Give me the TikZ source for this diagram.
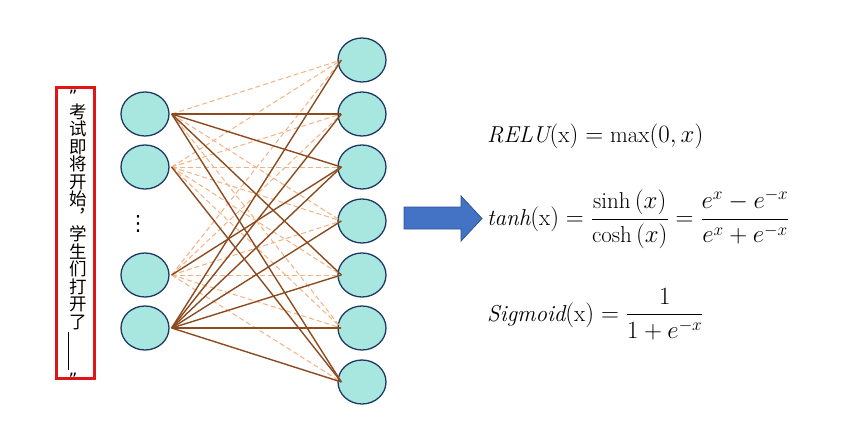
\documentclass[tikz,border=0pt]{standalone}
\usepackage{fontspec}
\usepackage{amsmath}
\usepackage{tikz}
\usetikzlibrary{shapes.geometric, positioning, calc}
\newfontfamily\cjk{Noto Sans CJK SC}
\newfontfamily\symfont{DejaVu Sans}
\definecolor{cellcolor}{RGB}{168,230,224}
\definecolor{rimcolor}{RGB}{31,56,100}
\definecolor{strongcolor}{RGB}{140,75,30}
\definecolor{weakcolor}{RGB}{244,177,131}
\definecolor{flowcolor}{RGB}{68,114,196}
\definecolor{flowrim}{RGB}{47,82,143}
\definecolor{framecolor}{RGB}{222,22,22}

\begin{document}
\begin{tikzpicture}[
    x=1pt, y=-1pt,
    neuron/.style={draw=rimcolor, fill=cellcolor, line width=1.3pt, ellipse, minimum width=48pt, minimum height=44pt},
    strong/.style={draw=strongcolor, line width=1.4pt},
    weak/.style={draw=weakcolor, line width=1pt, dash pattern=on 5pt off 3pt},
    chinese/.style={inner sep=0pt, align=center, font=\cjk\fontsize{17.5}{17.5}\selectfont},
    quote/.style={inner sep=0pt, font=\symfont\fontsize{17}{17}\selectfont},
    formula/.style={anchor=west, inner sep=0pt, font=\fontsize{23}{26}\selectfont}
]
    \useasboundingbox (0,0) rectangle (844,426);

    % question in the red frame
    \node[draw=framecolor, line width=3pt, minimum width=38pt, minimum height=291pt, inner sep=0pt] (frame) at (75,232.5) {};
    \node[chinese] (quest) at (78,216.5) {考\\试\\即\\将\\开\\始\\︐\\学\\生\\们\\打\\开\\了};
    \node[quote, above=1pt of quest, xshift=-5pt] (open) {”};
    \node[inner sep=0pt, below=2pt of quest, xshift=-10pt] (blank) {\rule{0.9pt}{38pt}};
    \node[quote, below=3pt of blank, xshift=5pt] (close) {”};

    % layers
    \foreach \i/\y in {1/114, 2/167, 3/275, 4/328}
        \node[neuron] (in\i) at (145,\y) {};
    \foreach \j/\y in {1/60, 2/114, 3/167, 4/221, 5/275, 6/328, 7/382}
        \node[neuron] (out\j) at (362,\y) {};
    \node[inner sep=0pt, font=\symfont\fontsize{21}{24}\selectfont] (gap) at (138,223.5) {⋮};

    % weights
    \foreach \i/\list in {1/{1,4,6}, 2/{1,2,3,4,5,6}, 3/{1,2,4,5,6,7}}
        \foreach \j in \list
            \draw[weak] ($(in\i.east)+(2,0)$) -- ($(out\j.west)+(4,0)$);
    \foreach \i/\list in {1/{2,3,5,7}, 2/{7}, 3/{3}, 4/{1,2,3,4,5,6,7}}
        \foreach \j in \list
            \draw[strong] ($(in\i.east)+(2,0)$) -- ($(out\j.west)+(4,0)$);

    % block arrow
    \draw[fill=flowcolor, draw=flowrim, line width=0.8pt] (404,207) -- (461,207) -- (461,196) -- (482,218.5) -- (461,241) -- (461,229) -- (404,229) -- cycle;

    % activation functions
    \node[formula] (relu) at (487,136) {$\mathit{RELU}(\mathrm{x}) = \max(0,x)$};
    \node[formula] (tanh) at (487,219) {$\displaystyle \mathit{tanh}(\mathrm{x}) = \frac{\sinh{(x)}}{\cosh{(x)}} = \frac{e^{x}-e^{-x}}{e^{x}+e^{-x}}$};
    \node[formula] (sigm) at (487,314) {$\displaystyle \mathit{Sigmoid}(\mathrm{x}) = \frac{1}{1+e^{-x}}$};
\end{tikzpicture}
\end{document}
